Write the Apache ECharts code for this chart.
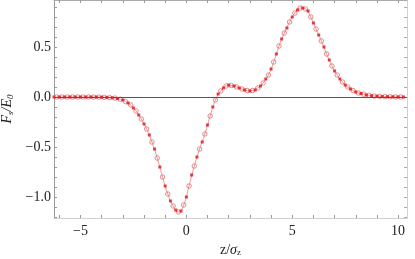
<!DOCTYPE html>
<html><head><meta charset="utf-8">
<script src="https://cdn.jsdelivr.net/npm/echarts@6/dist/echarts.min.js"></script>
<style>html,body{margin:0;padding:0;background:#fff}#c{width:415px;height:259px}</style>
</head><body><div id="c"></div>
<script>
// Filled red dots (z/sigma_z, F_s/E_0)
var zFilled = [-6.25,-6,-5.75,-5.5,-5.25,-5,-4.75,-4.5,-4.25,-4,-3.75,-3.5,-3.25,-3,-2.75,-2.5,-2.25,-2,-1.75,-1.5,-1.25,-1,-0.75,-0.5,-0.25,0,0.25,0.5,0.75,1,1.25,1.5,1.75,2,2.25,2.5,2.75,3,3.25,3.5,3.75,4,4.25,4.5,4.75,5,5.25,5.5,5.75,6,6.25,6.5,6.75,7,7.25,7.5,7.75,8,8.25,8.5,8.75,9,9.25,9.5,9.75,10,10.25];
var vFilled = [0,0,0,0,0,0,0,0,-0.001,-0.002,-0.004,-0.008,-0.015,-0.03,-0.06,-0.11,-0.18,-0.27,-0.38,-0.52,-0.70,-0.89,-1.04,-1.13,-1.14,-1.00,-0.78,-0.60,-0.45,-0.28,-0.10,0.03,0.09,0.12,0.11,0.09,0.07,0.06,0.07,0.11,0.18,0.28,0.43,0.58,0.69,0.80,0.87,0.89,0.86,0.74,0.62,0.50,0.37,0.26,0.18,0.12,0.08,0.05,0.035,0.02,0.013,0.008,0.005,0.003,0.002,0.001,0];
// Hollow circles with connecting line
var zHollow = [-6.125,-5.875,-5.625,-5.375,-5.125,-4.875,-4.625,-4.375,-4.125,-3.875,-3.625,-3.375,-3.125,-2.875,-2.625,-2.375,-2.125,-1.875,-1.625,-1.375,-1.125,-0.875,-0.625,-0.375,-0.125,0.125,0.375,0.625,0.875,1.125,1.375,1.625,1.875,2.125,2.375,2.625,2.875,3.125,3.375,3.625,3.875,4.125,4.375,4.625,4.875,5.125,5.375,5.625,5.875,6.125,6.375,6.625,6.875,7.125,7.375,7.625,7.875,8.125,8.375,8.625,8.875,9.125,9.375,9.625,9.875,10.125];
var vHollow = [0,0,0,0,0,0,0,-0.001,-0.001,-0.003,-0.006,-0.011,-0.022,-0.045,-0.08,-0.14,-0.22,-0.32,-0.45,-0.61,-0.80,-0.97,-1.09,-1.15,-1.08,-0.89,-0.69,-0.52,-0.37,-0.19,-0.03,0.06,0.11,0.115,0.10,0.08,0.065,0.065,0.09,0.14,0.22,0.35,0.51,0.64,0.75,0.84,0.89,0.88,0.80,0.68,0.56,0.43,0.31,0.22,0.15,0.10,0.065,0.04,0.028,0.017,0.01,0.006,0.004,0.002,0.001,0];
var xTicks = [-6,-5,-4,-3,-2,-1,0,1,2,3,4,5,6,7,8,9,10];
var xLabels = [-5,0,5,10];
var yTicks = [-1.2,-1.1,-1.0,-0.9,-0.8,-0.7,-0.6,-0.5,-0.4,-0.3,-0.2,-0.1,0,0.1,0.2,0.3,0.4,0.5,0.6,0.7,0.8,0.9];
var yLabels = [-1.0,-0.5,0.0,0.5];

function pairs(a,b){return a.map(function(v,i){return [v,b[i]];});}
var font = '"Liberation Serif", "Times New Roman", serif';
var chart = echarts.init(document.getElementById('c'), null, {renderer:'canvas'});
var xMin=-6.25, xMax=10.42, yMin=-1.21, yMax=0.97;
chart.setOption({
  animation:false,
  grid:{left:54,right:8,top:0,bottom:41,containLabel:false,outerBoundsMode:'none'},
  xAxis:[{
    type:'value',min:xMin,max:xMax,position:'bottom',
    name:'{r|z/}{g|σ}{s|z}',nameLocation:'middle',nameGap:21,
    nameTextStyle:{fontFamily:font,fontSize:14,color:'#222',rich:{
      r:{fontFamily:font,fontSize:14,color:'#222'},
      g:{fontFamily:font,fontSize:14,fontStyle:'italic',color:'#222'},
      s:{fontFamily:font,fontSize:9,color:'#222',padding:[6,0,0,0]}}},
    axisLine:{show:true,onZero:false,lineStyle:{color:'#d0d0d0',width:1}},
    axisTick:{show:true,inside:true,length:3,customValues:xTicks,lineStyle:{color:'#999'}},
    axisLabel:{customValues:xLabels,fontFamily:font,fontSize:14,color:'#222',margin:6,
      formatter:function(v){return (v<0?'\u2212':'')+Math.abs(v);}},
    splitLine:{show:false}
  },{
    type:'value',min:xMin,max:xMax,position:'top',
    axisLine:{show:true,onZero:false,lineStyle:{color:'#aaa',width:1}},
    axisTick:{show:true,inside:true,length:3,customValues:xTicks,lineStyle:{color:'#999'}},
    axisLabel:{show:false},splitLine:{show:false}
  }],
  yAxis:[{
    type:'value',min:yMin,max:yMax,position:'left',
    name:'{i|F}{s|s}{i|/E}{s|0}',nameLocation:'middle',nameGap:38,nameRotate:90,
    nameTextStyle:{fontFamily:font,fontSize:14,color:'#222',rich:{
      i:{fontFamily:font,fontSize:14,fontStyle:'italic',color:'#222'},
      s:{fontFamily:font,fontSize:9,fontStyle:'italic',color:'#222',padding:[6,0,0,0]}}},
    axisLine:{show:true,onZero:false,lineStyle:{color:'#999',width:1}},
    axisTick:{show:true,inside:true,length:3,customValues:yTicks,lineStyle:{color:'#999'}},
    axisLabel:{customValues:yLabels,fontFamily:font,fontSize:14,color:'#222',margin:3,
      formatter:function(v){return (v<-1e-9?'\u2212':'')+Math.abs(v).toFixed(1);}},
    splitLine:{show:false}
  },{
    type:'value',min:yMin,max:yMax,position:'right',
    axisLine:{show:true,onZero:false,lineStyle:{color:'#d0d0d0',width:1}},
    axisTick:{show:true,inside:true,length:3,customValues:yTicks,lineStyle:{color:'#aaa'}},
    axisLabel:{show:false},splitLine:{show:false}
  }],
  series:[{
    type:'line',data:pairs(zHollow,vHollow),smooth:true,
    symbol:'circle',symbolSize:4.5,showSymbol:true,
    lineStyle:{color:'#d98080',width:0.8},
    itemStyle:{color:'rgba(255,255,255,0)',borderColor:'#e07070',borderWidth:0.8},
    markLine:{silent:true,symbol:['none','none'],label:{show:false},
      lineStyle:{color:'#555',width:1,type:'solid'},data:[{yAxis:0}]},
    z:2
  },{
    type:'scatter',data:pairs(zFilled,vFilled),
    symbol:'rect',symbolSize:3,
    itemStyle:{color:'#e3121b'},z:3
  }]
});
</script></body></html>
